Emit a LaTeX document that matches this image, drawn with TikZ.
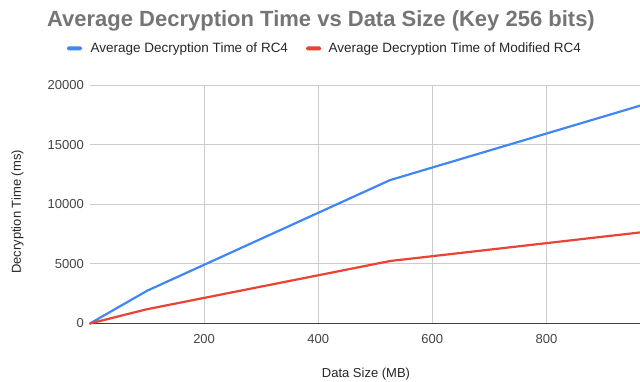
\documentclass[tikz,border=0pt]{standalone}
\usepackage{fontspec}
\setmainfont{Liberation Sans}
\usepackage{xcolor}
\usepackage{tikz}

\definecolor{azulrc}{HTML}{4285F4}
\definecolor{vermelhorc}{HTML}{EA4335}
\definecolor{cinzagrade}{HTML}{CCCCCC}
\definecolor{cinzatitulo}{HTML}{757575}
\definecolor{cinzatexto}{HTML}{444444}

\tikzset{
    grade/.style={cinzagrade, line width=1pt},
    rotulo/.style={inner sep=0pt, text=cinzatexto, font=\fontsize{13}{15}\selectfont},
    legenda/.style={inner sep=0pt, text=black!85, anchor=base west, font=\fontsize{13.5}{16}\selectfont},
    titulo eixo/.style={inner sep=0pt, text=black!85, font=\fontsize{13}{15}\selectfont},
    serie/.style={line width=2.2pt, line join=round, line cap=round}
}

\begin{document}
\begin{tikzpicture}[x=1pt,y=1pt]

    \useasboundingbox (0,0) rectangle (640,381);

    % Área do gráfico (x em MB, y em ms)
    \begin{scope}[shift={(90,57.5)}, x=0.5705pt, y=0.0119pt]

        % Grade vertical e rótulos do eixo x
        \foreach \gx in {200,400,600,800} {
            \draw[grade] (\gx,0) -- (\gx,20000);
            \node[rotulo, yshift=-15.5pt] (xt\gx) at (\gx,0) {\gx};
        }

        % Grade horizontal e rótulos do eixo y
        \foreach \gy in {5000,10000,15000,20000} {
            \draw[grade] (0,\gy) -- (964,\gy);
        }
        \foreach \gy in {0,5000,10000,15000,20000} {
            \node[rotulo, anchor=east, xshift=-6pt] (yt\gy) at (0,\gy) {\gy};
        }

        % Eixo x
        \draw[black!75, line width=1.2pt] (0,0) -- (964,0);

        % Curvas
        \draw[serie, azulrc] plot coordinates {(0,0) (100,2750) (526,12050) (964,18300)};
        \draw[serie, vermelhorc] plot coordinates {(0,0) (100,1200) (526,5250) (964,7650)};

    \end{scope}

    % Títulos dos eixos
    \node[titulo eixo] (eixox) at (366,7) {Data Size (MB)};
    \node[titulo eixo, rotate=90] (eixoy) at (17.5,169) {Decryption Time (ms)};

    % Título
    \node[inner sep=0pt, anchor=base, text=cinzatitulo, font=\fontsize{22}{26}\selectfont\bfseries] (titulo) at (321,354)
        {Average Decryption Time vs Data Size (Key 256 bits)};

    % Legenda
    \fill[azulrc, rounded corners=1.5pt] (67,330.5) rectangle (82,334.5);
    \node[legenda] (leg1) at (90.5,328) {Average Decryption Time of RC4};
    \fill[vermelhorc, rounded corners=1.5pt] (306,330.5) rectangle (321,334.5);
    \node[legenda] (leg2) at (328.5,328) {Average Decryption Time of Modified RC4};

\end{tikzpicture}
\end{document}
